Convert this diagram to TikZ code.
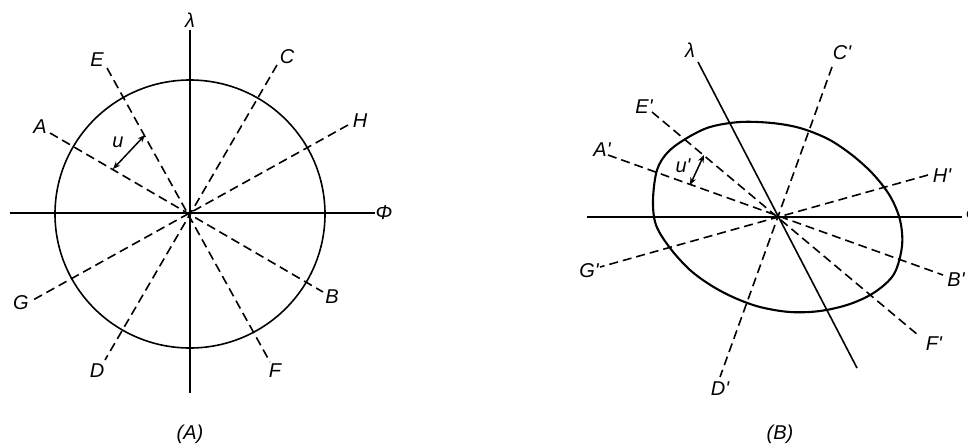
\documentclass[tikz,border=0pt]{standalone}
\usepackage{fontspec}
\setmainfont{Liberation Sans}
\usetikzlibrary{arrows.meta}
\begin{document}
\begin{tikzpicture}[x=1pt,y=-1pt,
  lbl/.style={font=\fontsize{20}{22}\selectfont\itshape, inner sep=1pt},
  axis/.style={line width=1.6pt},
  ray/.style={line width=1.6pt, dash pattern=on 9pt off 5pt},
  curve/.style={line width=1.6pt},
  bcurve/.style={line width=2.1pt},
  dimarrow/.style={line width=1.5pt, {Stealth[length=7.5pt,width=6pt]}-{Stealth[length=7.5pt,width=6pt]}}]
\useasboundingbox (0,0) rectangle (968,445);

% ---------------- Panel A ----------------
\coordinate (O1) at (190,213);
\coordinate (lamT) at (190,30);
\coordinate (lamB) at (190,393);
\coordinate (phiL) at (10,213);
\coordinate (phiR) at (375,213);
\node[lbl] (lamA) at (190,20) {λ};
\node[lbl] (phiA) at (384,213) {Φ};
\draw[axis] (lamT) -- (lamB);
\draw[axis] (phiL) -- (phiR);
\draw[curve] (190,214) ellipse [x radius=135, y radius=134];

\coordinate (a1) at (50,133);
\coordinate (b1) at (323,292);
\coordinate (e1) at (107,68);
\coordinate (f1) at (270,362);
\coordinate (c1) at (277,65);
\coordinate (d1) at (105,360);
\coordinate (h1) at (348,125);
\coordinate (g1) at (33,300);
\draw[ray] (a1) -- (b1);
\draw[ray] (e1) -- (f1);
\draw[ray] (c1) -- (d1);
\draw[ray] (h1) -- (g1);
\node[lbl] (A) at (40,127) {A};
\node[lbl] (B) at (332,297) {B};
\node[lbl] (E) at (97,60) {E};
\node[lbl] (F) at (275,371) {F};
\node[lbl] (C) at (287,57) {C};
\node[lbl] (D) at (97,371) {D};
\node[lbl] (H) at (360,121) {H};
\node[lbl] (G) at (21,303) {G};

\coordinate (u1a) at (113,169);
\coordinate (u1b) at (145,135);
\draw[dimarrow] (u1a) -- (u1b);
\node[lbl] (uA) at (118,142) {u};

\node[lbl] (capA) at (190,434) {(A)};

% ---------------- Panel B ----------------
\coordinate (O2) at (778,217);
\coordinate (phiL2) at (587,217);
\coordinate (phiR2) at (962,217);
\draw[axis] (phiL2) -- (phiR2);
\node[lbl] (phiB) at (974,215) {Φ};

\coordinate (lamT2) at (698,62);
\coordinate (lamB2) at (857,368);
\draw[axis] (lamT2) -- (lamB2);
\node[lbl] (lamB) at (690,50) {λ};

\draw[bcurve] plot[smooth cycle, tension=0.55] coordinates {
  (653,200) (657,170) (668,152) (687,138) (710,127) (740,122) (772,123)
  (800,128) (828,139) (852,155) (873,174) (890,196) (900,220) (902,246)
  (894,274) (875,292) (850,304) (820,311) (790,312) (760,307) (735,298)
  (712,286) (690,270) (670,248) (656,225)};

\coordinate (c2) at (832,67);
\coordinate (d2) at (720,377);
\coordinate (e2) at (652,112);
\coordinate (f2) at (918,335);
\coordinate (a2) at (608,155);
\coordinate (b2) at (943,275);
\coordinate (h2) at (928,175);
\coordinate (g2) at (600,267);
\draw[ray] (c2) -- (d2);
\draw[ray] (e2) -- (f2);
\draw[ray] (a2) -- (b2);
\draw[ray] (h2) -- (g2);
\node[lbl] (Cp) at (842,53) {C\textquotesingle};
\node[lbl] (Dp) at (720,389) {D\textquotesingle};
\node[lbl] (Ep) at (644,107) {E\textquotesingle};
\node[lbl] (Fp) at (934,344) {F\textquotesingle};
\node[lbl] (Ap) at (602,150) {A\textquotesingle};
\node[lbl] (Bp) at (956,280) {B\textquotesingle};
\node[lbl] (Hp) at (942,176) {H\textquotesingle};
\node[lbl] (Gp) at (589,271) {G\textquotesingle};

\coordinate (u2a) at (690,185);
\coordinate (u2b) at (704,155);
\draw[dimarrow] (u2a) -- (u2b);
\node[lbl] (uB) at (683,166) {u\textquotesingle};

\node[lbl] (capB) at (780,434) {(B)};
\end{tikzpicture}
\end{document}
